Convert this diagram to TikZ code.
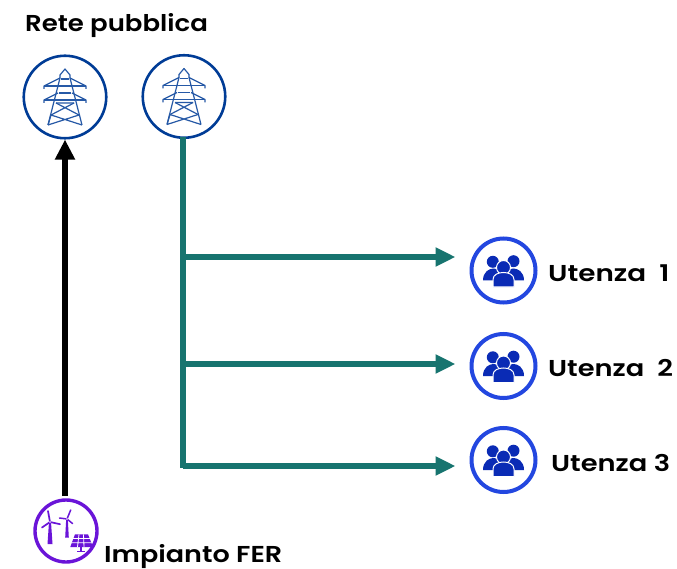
\documentclass[tikz,border=0pt]{standalone}
\usepackage{fontspec}
\setmainfont{Poppins SemiBold}[FakeStretch=1.13]
\usetikzlibrary{arrows.meta}
\definecolor{navy}{HTML}{003C96}
\definecolor{teal2}{HTML}{17746F}
\definecolor{violet2}{HTML}{6A14D8}
\definecolor{ringblue}{HTML}{2347E0}
\definecolor{iconblue}{HTML}{0A2BB5}
\tikzset{
  towerring/.style={circle,draw=navy,line width=2.6pt,minimum size=82.5pt,inner sep=0pt,fill=white},
  userring/.style={circle,draw=ringblue,line width=4pt,minimum size=64pt,inner sep=0pt,fill=white},
  ferring/.style={circle,draw=violet2,line width=3.4pt,minimum size=62pt,inner sep=0pt,fill=white},
  label/.style={anchor=base west,font=\fontsize{23}{23}\selectfont,inner sep=0pt,text=black},
  wide/.style={label,xscale=#1,transform shape},
  feed/.style={draw=teal2,line width=6pt},
  branch/.style={draw=teal2,line width=6pt,-{Triangle[length=20pt,width=18pt]},shorten >=14pt},
  up/.style={draw=black,line width=6pt,-{Triangle[length=20pt,width=19pt]}},
  pylon/.pic={
    \begin{scope}[draw=navy!85,line width=1.2pt,line join=round]
      \draw (-17,28) -- (-5,-19) -- (-5,-22) -- (0,-28) -- (5,-22) -- (5,-19) -- (17,28);
      \draw (-21,-8) -- (-21,-11) -- (-5,-19) (21,-8) -- (21,-11) -- (5,-19);
      \draw (-21,-11) -- (21,-11);
      \draw (-21,6) -- (-21,3) -- (-7,-4) (21,6) -- (21,3) -- (7,-4);
      \draw (-21,3) -- (21,3);
      \draw (-4,-18) -- (4,-18) (-6,-4) -- (6,-4);
      \draw (-9,6) -- (14,18) (9,6) -- (-14,18);
      \draw (-9,6) -- (9,6) (-14,18) -- (-17,28) (-14,18) -- (17,28) (14,18) -- (-17,28);
    \end{scope}
  },
  people/.pic={
    \begin{scope}[fill=iconblue]
      \fill (-10.7,-8.7) circle (6);
      \fill (10,-9.3) circle (6);
      \fill (-20.5,10) .. controls (-20.5,1) and (-14,-2) .. (-10,-2) .. controls (-6,-2) and (0,1) .. (0,10) -- cycle;
      \fill (20.5,10) .. controls (20.5,1) and (14,-2) .. (10,-2) .. controls (6,-2) and (0,1) .. (0,10) -- cycle;
      \fill[draw=white,line width=1pt] (0,-3) circle (7);
      \fill[draw=white,line width=1pt] (-10.5,16.5) -- (-10.5,9) .. controls (-10.5,4) and (-5,2) .. (0,2) .. controls (5,2) and (10.5,4) .. (10.5,9) -- (10.5,16.5) -- cycle;
    \end{scope}
  },
  fermix/.pic={
    % large turbine
    \fill[violet2] (-17,-9) -- (-15,-9) -- (-13.5,13) -- (-18.5,13) -- cycle;
    \draw[violet2,line width=1.7pt,line cap=round] (-16,-9) -- (-18,-20) (-16,-9) -- (-6,-6.8) (-16,-9) -- (-24,-3.5);
    \fill[white] (-16,-9) circle (0.9);
    % small turbine
    \fill[violet2] (0.2,-12) -- (1.8,-12) -- (2.8,6.5) -- (-0.8,6.5) -- cycle;
    \draw[violet2,line width=1.5pt,line cap=round] (1,-12) -- (4.7,-21) (1,-12) -- (6.5,-7.5) (1,-12) -- (-6.5,-13);
    \fill[white] (1,-12) circle (0.8);
    % solar panel
    \fill[violet2] (9,3.3) -- (22,3.3) -- (27,16) -- (4.3,16) -- cycle;
    \draw[white,line width=0.8pt] (7,7.5) -- (24,7.5) (5.5,11.7) -- (25.5,11.7) (13,3.3) -- (11.5,16) (17.5,3.3) -- (18,16);
    \draw[violet2,line width=1.2pt] (15,16) -- (15,20.6) (11,20.6) -- (19,20.6);
  }
}
\begin{document}
\begin{tikzpicture}[x=1pt,y=-1pt]
\useasboundingbox (0,0) rectangle (677,569);
\node[towerring] (t1) at (65,97) {};
\node[towerring] (t2) at (184,96.5) {};
\node[ferring] (fer) at (66,531) {};
\node[userring] (u1) at (503.5,270.5) {};
\node[userring] (u2) at (503.5,366) {};
\node[userring] (u3) at (503.5,460) {};
\pic at (t1) {pylon};
\pic at (t2) {pylon};
\pic at (u1) {people};
\pic at (u2) {people};
\pic at (u3) {people};
\pic at (fer) {fermix};
\node[label] (lr) at (25,31.5) {Rete pubblica};
\node[wide=1.04] (lf) at (104,562.5) {Impianto FER};
\node[wide=1.07] (l1) at (548,282) {Utenza\ \ 1};
\node[wide=1.05] (l2) at (548,376.5) {Utenza\ \ 2};
\node[wide=1.05] (l3) at (551,471.5) {Utenza 3};
\coordinate (f0) at (183,137);
\coordinate (j0) at (183,468);
\coordinate (j1) at (183,257);
\coordinate (j2) at (183,364);
\coordinate (j3) at (183,466);
\coordinate (fs) at (65,496);
\draw[feed] (f0) -- (j0);
\draw[branch] (j1) -- (j1 -| u1.west);
\draw[branch] (j2) -- (j2 -| u2.west);
\draw[branch] (j3) -- (j3 -| u3.west);
\draw[up] (fs) -- (t1.south);
\end{tikzpicture}
\end{document}
